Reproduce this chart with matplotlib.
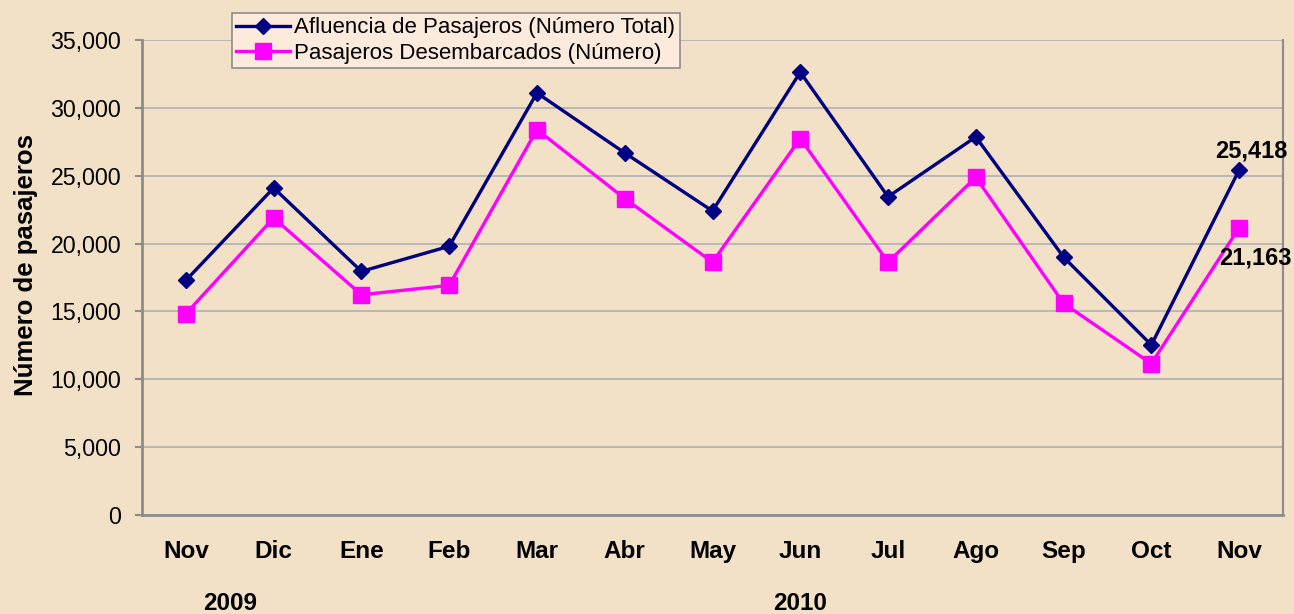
import numpy as np
import matplotlib
matplotlib.use('Agg')
import matplotlib.pyplot as plt
import matplotlib.transforms as mtransforms

plt.rcParams['font.family'] = ['Liberation Sans', 'DejaVu Sans']

# chart data
months = ['Nov', 'Dic', 'Ene', 'Feb', 'Mar', 'Abr', 'May', 'Jun', 'Jul', 'Ago', 'Sep', 'Oct', 'Nov']
afluencia = [17290, 24100, 17950, 19800, 31100, 26680, 22400, 32630, 23450, 27860, 19000, 12530, 25418]
desembarcados = [14830, 21890, 16230, 16920, 28400, 23320, 18630, 27740, 18630, 24880, 15600, 11150, 21163]
years = ['2009', '2010']
year_centers = [0.5, 7]  # category position under which each year sits
yticks = [0, 5000, 10000, 15000, 20000, 25000, 30000, 35000]

bg = '#F2E1C6'
navy = '#000080'
magenta = '#FF00FF'
grid_gray = '#B4B4B4'
axis_gray = '#8C8C8C'

fig = plt.figure(figsize=(12.94, 6.14), dpi=100, facecolor=bg)
ax = fig.add_axes([142 / 1294, 1 - 515 / 614, 1141 / 1294, 475 / 614])
ax.set_facecolor(bg)

x = np.arange(len(months))
ax.plot(x, afluencia, color=navy, lw=2.4, marker='D', ms=8.5, mfc=navy, mec=navy,
        label='Afluencia de Pasajeros (Número Total)', zorder=4)
ax.plot(x, desembarcados, color=magenta, lw=2.4, marker='s', ms=11.5, mfc=magenta, mec=magenta,
        label='Pasajeros Desembarcados (Número)', zorder=3)

# axes limits and ticks
ax.set_xlim(-0.5, len(months) - 0.5)
ax.set_ylim(0, 35000)
ax.set_yticks(yticks)
ax.set_yticklabels(['{:,}'.format(v) for v in yticks], fontsize=16.7)
ax.set_xticks(x)
ax.set_xticklabels(months, fontsize=17.5, fontweight='bold')
ax.tick_params(axis='x', length=0, pad=18)
ax.tick_params(axis='y', length=5, width=1.5, color=axis_gray, pad=10)

# horizontal gridlines
ax.grid(axis='y', color=grid_gray, lw=1.3)
ax.set_axisbelow(True)

for side in ['left', 'bottom']:
    ax.spines[side].set_color(axis_gray)
    ax.spines[side].set_linewidth(2)
ax.spines['right'].set_color(axis_gray)
ax.spines['right'].set_linewidth(1.5)
ax.spines['top'].set_visible(False)

ax.set_ylabel('Número de pasajeros', fontsize=18.5, fontweight='bold')
ax.yaxis.set_label_coords(-0.091, 0.526)

# year labels under the months
trans = mtransforms.blended_transform_factory(ax.transData, fig.transFigure)
for yr, xc in zip(years, year_centers):
    ax.text(xc, 1 - 603 / 614, yr, transform=trans, ha='center', va='center',
            fontsize=17.5, fontweight='bold')

# data labels on the last point
ax.annotate('{:,}'.format(afluencia[-1]), (x[-1], afluencia[-1]), xytext=(9, 14),
            textcoords='offset points', ha='center', va='center', fontsize=17, fontweight='bold')
ax.annotate('{:,}'.format(desembarcados[-1]), (x[-1], desembarcados[-1]), xytext=(12, -22),
            textcoords='offset points', ha='center', va='center', fontsize=17, fontweight='bold')

leg = ax.legend(loc='upper left', bbox_to_anchor=(232 / 1294, 1 - 13 / 614),
                bbox_transform=fig.transFigure, fontsize=16, frameon=True, fancybox=False,
                handlelength=2.4, handletextpad=0.2, labelspacing=0.2, borderpad=0.2,
                borderaxespad=0)
leg.get_frame().set_facecolor('#FCEBDD')
leg.get_frame().set_edgecolor('#8C8C8C')
leg.get_frame().set_linewidth(1.2)
leg.get_frame().set_alpha(1)

fig.savefig('out.png', dpi=100, facecolor=bg)
